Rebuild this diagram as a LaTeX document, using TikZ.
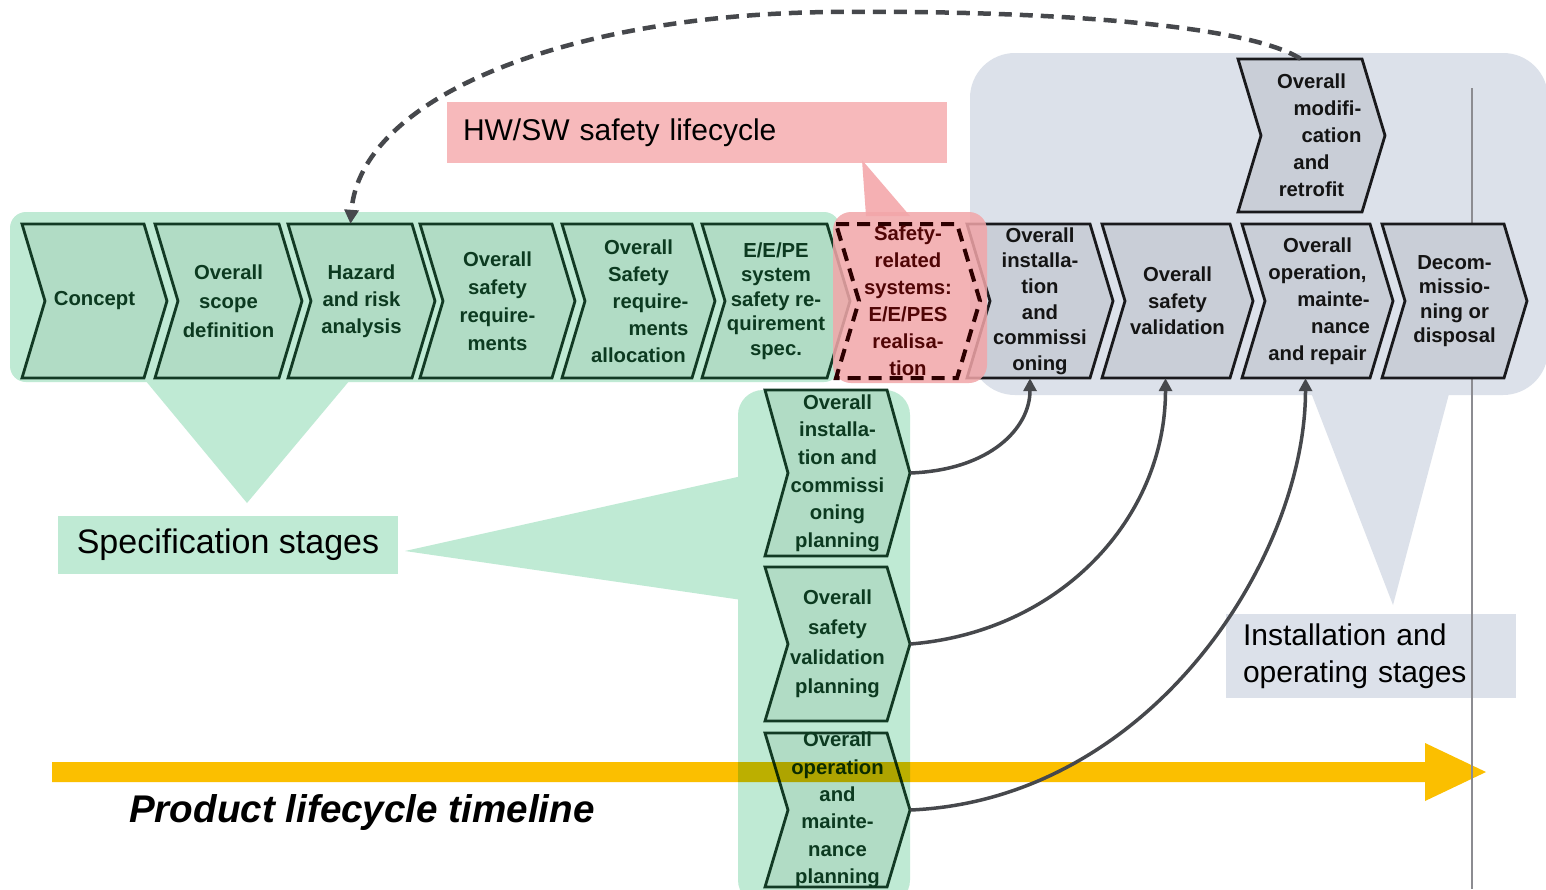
\documentclass[tikz,border=0pt]{standalone}
\usepackage{fontspec}
\setmainfont{Liberation Sans}
\usetikzlibrary{arrows.meta}

\definecolor{greenbg}{RGB}{191,234,212}
\definecolor{greenchev}{RGB}{177,220,197}
\definecolor{greenline}{RGB}{18,58,36}
\definecolor{greentext}{RGB}{12,58,32}
\definecolor{greybg}{RGB}{220,225,234}
\definecolor{greychev}{RGB}{201,206,215}
\definecolor{greyline}{RGB}{25,25,28}
\definecolor{greytext}{RGB}{20,20,20}
\definecolor{pinkbox}{RGB}{247,185,187}
\definecolor{pinktri}{RGB}{245,176,179}
\definecolor{pinkrect}{RGB}{242,166,169}
\definecolor{redline}{RGB}{45,0,0}
\definecolor{redtext}{RGB}{80,5,5}
\definecolor{tlgold}{RGB}{251,191,0}
\definecolor{conn}{RGB}{70,72,76}
\definecolor{vlinec}{RGB}{140,140,145}

% #1 name, #2 left x, #3 top y, #4 width, #5 height, #6 shape style, #7 text style, #8 text
\newcommand\chev[8]{%
  \path[#6] (#2,#3) -- ({#2+#4-23},#3) -- ({#2+#4},{#3+#5/2}) -- ({#2+#4-23},{#3+#5}) -- (#2,{#3+#5}) -- ({#2+23},{#3+#5/2}) -- cycle;
  \node[chevnode,#7,minimum width=#4,minimum height=#5] (#1) at ({#2+#4/2},{#3+#5/2}) {#8};}

\begin{document}
\begin{tikzpicture}[x=1pt,y=-1pt,
  greenchevron/.style={fill=greenchev,draw=greenline,line width=2.8pt},
  greychevron/.style={fill=greychev,draw=greyline,line width=2.8pt},
  redchevron/.style={draw=redline,line width=4pt,dash pattern=on 13pt off 8pt},
  chevnode/.style={inner sep=0pt,align=center},
  gtxt/.style={text=greentext,font=\fontsize{20.3}{#1}\selectfont\bfseries},
  ytxt/.style={text=greytext,font=\fontsize{20.3}{#1}\selectfont\bfseries},
  rtxt/.style={text=redtext,font=\fontsize{20.3}{#1}\selectfont\bfseries},
  connector/.style={draw=conn,line width=3.5pt,-{Triangle[length=13pt,width=13pt]}},
  feedback/.style={draw=conn,line width=4.5pt,dash pattern=on 13pt off 8pt,-{Triangle[length=14pt,width=14pt]}}]

\fill[white] (0,0) rectangle (1546,889);
\useasboundingbox (0,0) rectangle (1546,889);

% green specification background and callouts
\fill[greenbg,rounded corners=16pt] (10,212) rectangle (840,382);
\fill[greenbg] (145,380) -- (350,380) -- (247,503) -- cycle;
\node[fill=greenbg,minimum width=340,minimum height=58,inner sep=0pt,font=\fontsize{34}{40}\selectfont] (spec) at (228,545) {Specification stages};
\fill[greenbg,rounded corners=25pt] (738,390) rectangle (910,905);
\fill[greenbg] (742,476) -- (405,551) -- (742,600) -- cycle;

% grey installation background and callout
\fill[greybg,rounded corners=45pt] (970,53) rectangle (1548,395);
\fill[greybg] (1310,390) -- (1450,390) -- (1393,605) -- cycle;
\node[fill=greybg,text width=256pt,inner xsep=17pt,inner ysep=0pt,minimum height=84,align=left,font=\fontsize{30}{37}\selectfont] (inst) at (1371,656) {Installation and\\operating stages};

% HW/SW box
\node[fill=pinkbox,text width=468pt,inner xsep=16pt,inner ysep=0pt,minimum height=61,align=left,font=\fontsize{30}{36}\selectfont] (hwsw) at (697,132.5) {HW/SW safety lifecycle};
\fill[pinktri] (862,160) -- (866,216) -- (910,216) -- cycle;

% planning chevrons
\chev{v1}{765}{390}{145}{166}{greenchevron}{gtxt=27.6}{Overall\\installa-\\tion and\\commissi\\oning\\planning}
\chev{v2}{765}{567}{145}{154}{greenchevron}{gtxt=29.7}{Overall\\safety\\validation\\planning}
\chev{v3}{765}{733}{145}{154}{greenchevron}{gtxt=27.4}{Overall\\operation\\and\\mainte-\\nance\\planning}

% timeline
\begin{scope}[blend mode=multiply]
\fill[tlgold] (52,762) -- (1425,762) -- (1425,743) -- (1486,772) -- (1425,801) -- (1425,782) -- (52,782) -- cycle;
\end{scope}
\node[anchor=base west,inner sep=0pt,font=\fontsize{38.6}{46}\selectfont\bfseries\itshape] (timeline) at (129,822) {Product lifecycle timeline};
\draw[vlinec,line width=2.5pt] (1472,88) -- (1472,889);

% top row chevrons
\chev{c1}{22}{224}{145}{154}{greenchevron}{gtxt=26}{Concept}
\chev{c2}{155}{224}{147}{154}{greenchevron}{gtxt=29}{Overall\\scope\\definition}
\chev{c3}{288}{224}{147}{154}{greenchevron}{gtxt=27}{Hazard\\and risk\\analysis}
\chev{c4}{420}{224}{155}{154}{greenchevron}{gtxt=28}{Overall\\safety\\require-\\ments}
\chev{c5}{562}{224}{153}{154}{greenchevron}{gtxt=27}{Overall\\Safety\\\hspace*{24pt}require-\\\hspace*{40pt}ments\\allocation}
\chev{c6}{702}{224}{148}{154}{greenchevron}{gtxt=24.5}{E/E/PE\\system\\safety re-\\quirement\\spec.}
\chev{c8}{967}{224}{146}{154}{greychevron}{ytxt=25.6}{Overall\\installa-\\tion\\and\\commissi\\oning}
\chev{c9}{1102}{224}{151}{154}{greychevron}{ytxt=26.5}{Overall\\safety\\validation}
\chev{c10}{1242}{224}{151}{154}{greychevron}{ytxt=27}{Overall\\operation,\\\hspace*{32pt}mainte-\\\hspace*{46pt}nance\\and repair}
\chev{c11}{1382}{224}{145}{154}{greychevron}{ytxt=24.5}{Decom-\\missio-\\ning or\\disposal}
\chev{c12}{1238}{59}{147}{153}{greychevron}{ytxt=27}{Overall\\\hspace*{32pt}modifi-\\\hspace*{40pt}cation\\and\\retrofit}

% HW/SW realisation stage
\fill[pinkrect,fill opacity=0.85,rounded corners=18pt] (833,212) rectangle (987,383);
\chev{c7}{836}{224}{144}{154}{redchevron}{rtxt=27}{Safety-\\related\\systems:\\E/E/PES\\realisa-\\tion}

% connectors
\draw[connector] (v1.east) .. controls +(80,-3) and +(0,50) .. ([xshift=-10pt]c8.south);
\draw[connector] (v2.east) .. controls +(150,-12) and +(0,140) .. ([xshift=-12pt]c9.south);
\draw[connector] (v3.east) .. controls +(240,-10) and +(0,180) .. ([xshift=-12pt]c10.south);
\draw[feedback] ([xshift=-11pt]c12.north) .. controls (1240,20) and (1000,10) .. (830,12) .. controls (560,15) and (360,100) .. ([xshift=-11pt]c3.north);
\end{tikzpicture}
\end{document}
